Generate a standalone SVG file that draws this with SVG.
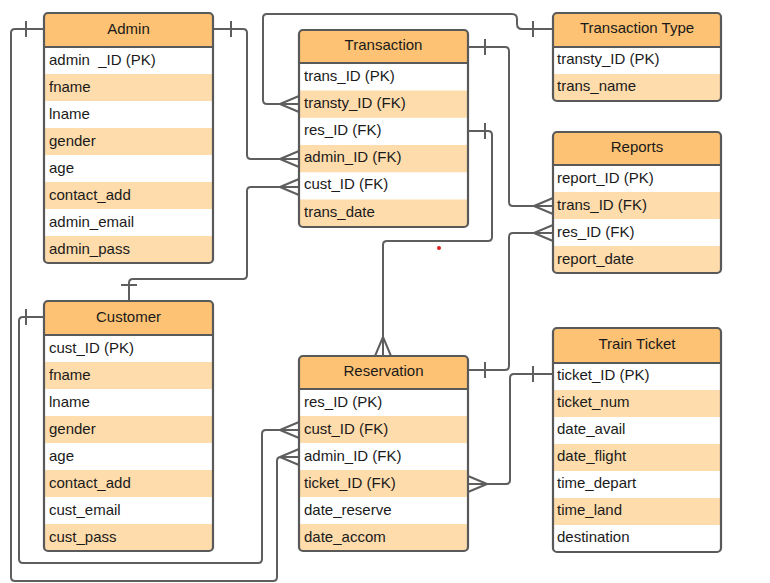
<svg xmlns="http://www.w3.org/2000/svg" width="770" height="583" viewBox="0 0 770 583">
<style>
.bg{fill:#ffffff}
.hd{fill:#fdc273}
.alt{fill:#fedcac}
.box{fill:none;stroke:#595959;stroke-width:2.2}
.sep{stroke:#595959;stroke-width:2}
.t{font-family:"Liberation Sans",Arial,sans-serif;font-size:15px;fill:#1a1a1a}
.h{font-family:"Liberation Sans",Arial,sans-serif;font-size:15px;fill:#1a1a1a;text-anchor:middle}
.c{fill:none;stroke:#5e5e5e;stroke-width:2;stroke-linejoin:round}
</style>
<defs>
<clipPath id="cpAdmin"><rect x="44" y="13" width="169" height="250" rx="4"/></clipPath>
<clipPath id="cpTrans"><rect x="299" y="30" width="169" height="197" rx="4"/></clipPath>
<clipPath id="cpType"><rect x="553" y="13" width="168" height="88" rx="4"/></clipPath>
<clipPath id="cpRep"><rect x="553" y="132" width="168" height="141" rx="4"/></clipPath>
<clipPath id="cpCust"><rect x="44" y="301" width="169" height="250" rx="4"/></clipPath>
<clipPath id="cpRes"><rect x="299" y="356" width="169" height="195" rx="4"/></clipPath>
<clipPath id="cpTick"><rect x="553" y="328" width="168" height="224" rx="4"/></clipPath>
</defs>

<g id="connectors">
  <!-- Admin -> Reservation.admin_ID -->
  <path class="c" d="M44 29 H15 Q11 29 11 33 V577 Q11 581 15 581 H273 Q277 581 277 577 V461 Q277 457 281 457 H299"/>
  <path class="c" d="M26 21 V37"/>
  <path class="c" d="M280 457 L299 449 M280 457 L299 465"/>
  <!-- Customer -> Reservation.cust_ID -->
  <path class="c" d="M44 317 H23 Q19 317 19 321 V559 Q19 563 23 563 H258 Q262 563 262 559 V434 Q262 430 266 430 H299"/>
  <path class="c" d="M26 309 V325"/>
  <path class="c" d="M280 430 L299 422 M280 430 L299 438"/>
  <!-- Customer -> Transaction.cust_ID -->
  <path class="c" d="M129 301 V283 Q129 279 133 279 H243 Q247 279 247 275 V191 Q247 187 251 187 H299"/>
  <path class="c" d="M121 285 H137"/>
  <path class="c" d="M280 187 L299 179 M280 187 L299 195"/>
  <!-- Admin -> Transaction.admin_ID -->
  <path class="c" d="M213 29 H243 Q247 29 247 33 V155 Q247 159 251 159 H299"/>
  <path class="c" d="M231 21 V37"/>
  <path class="c" d="M280 159 L299 151 M280 159 L299 167"/>
  <!-- Transaction.transty_ID -> Transaction Type -->
  <path class="c" d="M299 104 H267 Q263 104 263 100 V18 Q263 14 267 14 H512 Q517 14 517 19 V24 Q517 29 522 29 H553"/>
  <path class="c" d="M533 21 V37"/>
  <path class="c" d="M280 104 L299 96 M280 104 L299 112"/>
  <!-- Transaction -> Reports.trans_ID -->
  <path class="c" d="M468 47 H505 Q509 47 509 51 V202 Q509 206 513 206 H553"/>
  <path class="c" d="M485 39 V55"/>
  <path class="c" d="M534 206 L553 198 M534 206 L553 214"/>
  <!-- Transaction.res_ID -> Reservation -->
  <path class="c" d="M468 131 H488 Q492 131 492 135 V237 Q492 241 488 241 H387 Q383 241 383 245 V356"/>
  <path class="c" d="M485 123 V139"/>
  <path class="c" d="M383 337 L375 356 M383 337 L391 356"/>
  <!-- Reservation -> Reports.res_ID -->
  <path class="c" d="M468 370 H505 Q509 370 509 366 V237 Q509 233 513 233 H553"/>
  <path class="c" d="M485 362 V378"/>
  <path class="c" d="M534 233 L553 225 M534 233 L553 241"/>
  <!-- Train Ticket -> Reservation.ticket_ID -->
  <path class="c" d="M553 374 H514 Q510 374 510 378 V480 Q510 484 506 484 H468"/>
  <path class="c" d="M533 366 V382"/>
  <path class="c" d="M487 484 L468 476 M487 484 L468 492"/>
</g>

<g id="admin">
  <g clip-path="url(#cpAdmin)">
    <rect class="bg" x="44" y="13" width="169" height="250"/>
    <rect class="hd" x="44" y="13" width="169" height="34"/>
    <rect class="alt" x="44" y="74" width="169" height="27"/>
    <rect class="alt" x="44" y="128" width="169" height="27"/>
    <rect class="alt" x="44" y="182" width="169" height="27"/>
    <rect class="alt" x="44" y="236" width="169" height="27"/>
  </g>
  <line class="sep" x1="44" y1="47" x2="213" y2="47"/>
  <rect class="box" x="44" y="13" width="169" height="250" rx="4"/>
  <text class="h" x="128.5" y="33.5">Admin</text>
  <text class="t" x="49" y="64.5" xml:space="preserve">admin  _ID (PK)</text>
  <text class="t" x="49" y="91.5">fname</text>
  <text class="t" x="49" y="118.5">lname</text>
  <text class="t" x="49" y="145.5">gender</text>
  <text class="t" x="49" y="172.5">age</text>
  <text class="t" x="49" y="199.5">contact_add</text>
  <text class="t" x="49" y="226.5">admin_email</text>
  <text class="t" x="49" y="253.5">admin_pass</text>
</g>

<g id="transaction">
  <g clip-path="url(#cpTrans)">
    <rect class="bg" x="299" y="30" width="169" height="197"/>
    <rect class="hd" x="299" y="30" width="169" height="33"/>
    <rect class="alt" x="299" y="90.5" width="169" height="27.3"/>
    <rect class="alt" x="299" y="145" width="169" height="27.3"/>
    <rect class="alt" x="299" y="199.5" width="169" height="28"/>
  </g>
  <line class="sep" x1="299" y1="63" x2="468" y2="63"/>
  <rect class="box" x="299" y="30" width="169" height="197" rx="4"/>
  <text class="h" x="383.5" y="50">Transaction</text>
  <text class="t" x="304" y="80.5">trans_ID (PK)</text>
  <text class="t" x="304" y="107.5">transty_ID (FK)</text>
  <text class="t" x="304" y="135">res_ID (FK)</text>
  <text class="t" x="304" y="162">admin_ID (FK)</text>
  <text class="t" x="304" y="189">cust_ID (FK)</text>
  <text class="t" x="304" y="216.5">trans_date</text>
</g>

<g id="transaction-type">
  <g clip-path="url(#cpType)">
    <rect class="bg" x="553" y="13" width="168" height="88"/>
    <rect class="hd" x="553" y="13" width="168" height="34"/>
    <rect class="alt" x="553" y="74" width="168" height="27"/>
  </g>
  <line class="sep" x1="553" y1="47" x2="721" y2="47"/>
  <rect class="box" x="553" y="13" width="168" height="88" rx="4"/>
  <text class="h" x="637" y="33">Transaction Type</text>
  <text class="t" x="557" y="64">transty_ID (PK)</text>
  <text class="t" x="557" y="91">trans_name</text>
</g>

<g id="reports">
  <g clip-path="url(#cpRep)">
    <rect class="bg" x="553" y="132" width="168" height="141"/>
    <rect class="hd" x="553" y="132" width="168" height="33"/>
    <rect class="alt" x="553" y="192" width="168" height="27"/>
    <rect class="alt" x="553" y="246" width="168" height="27"/>
  </g>
  <line class="sep" x1="553" y1="165" x2="721" y2="165"/>
  <rect class="box" x="553" y="132" width="168" height="141" rx="4"/>
  <text class="h" x="637" y="152">Reports</text>
  <text class="t" x="557" y="183">report_ID (PK)</text>
  <text class="t" x="557" y="210">trans_ID (FK)</text>
  <text class="t" x="557" y="237">res_ID (FK)</text>
  <text class="t" x="557" y="264">report_date</text>
</g>

<g id="customer">
  <g clip-path="url(#cpCust)">
    <rect class="bg" x="44" y="301" width="169" height="250"/>
    <rect class="hd" x="44" y="301" width="169" height="34"/>
    <rect class="alt" x="44" y="362" width="169" height="27"/>
    <rect class="alt" x="44" y="416" width="169" height="27"/>
    <rect class="alt" x="44" y="470" width="169" height="27"/>
    <rect class="alt" x="44" y="524" width="169" height="27"/>
  </g>
  <line class="sep" x1="44" y1="335" x2="213" y2="335"/>
  <rect class="box" x="44" y="301" width="169" height="250" rx="4"/>
  <text class="h" x="128.5" y="321.5">Customer</text>
  <text class="t" x="49" y="352.5">cust_ID (PK)</text>
  <text class="t" x="49" y="379.5">fname</text>
  <text class="t" x="49" y="406.5">lname</text>
  <text class="t" x="49" y="433.5">gender</text>
  <text class="t" x="49" y="460.5">age</text>
  <text class="t" x="49" y="487.5">contact_add</text>
  <text class="t" x="49" y="514.5">cust_email</text>
  <text class="t" x="49" y="541.5">cust_pass</text>
</g>

<g id="reservation">
  <g clip-path="url(#cpRes)">
    <rect class="bg" x="299" y="356" width="169" height="195"/>
    <rect class="hd" x="299" y="356" width="169" height="33"/>
    <rect class="alt" x="299" y="416" width="169" height="27"/>
    <rect class="alt" x="299" y="470" width="169" height="27"/>
    <rect class="alt" x="299" y="524" width="169" height="27"/>
  </g>
  <line class="sep" x1="299" y1="389" x2="468" y2="389"/>
  <rect class="box" x="299" y="356" width="169" height="195" rx="4"/>
  <text class="h" x="383.5" y="376">Reservation</text>
  <text class="t" x="304" y="407">res_ID (PK)</text>
  <text class="t" x="304" y="434">cust_ID (FK)</text>
  <text class="t" x="304" y="461">admin_ID (FK)</text>
  <text class="t" x="304" y="488">ticket_ID (FK)</text>
  <text class="t" x="304" y="515">date_reserve</text>
  <text class="t" x="304" y="542">date_accom</text>
</g>

<g id="train-ticket">
  <g clip-path="url(#cpTick)">
    <rect class="bg" x="553" y="328" width="168" height="224"/>
    <rect class="hd" x="553" y="328" width="168" height="35"/>
    <rect class="alt" x="553" y="390" width="168" height="27"/>
    <rect class="alt" x="553" y="444" width="168" height="27"/>
    <rect class="alt" x="553" y="498" width="168" height="27"/>
  </g>
  <line class="sep" x1="553" y1="363" x2="721" y2="363"/>
  <rect class="box" x="553" y="328" width="168" height="224" rx="4"/>
  <text class="h" x="637" y="348.5">Train Ticket</text>
  <text class="t" x="557" y="379.5">ticket_ID (PK)</text>
  <text class="t" x="557" y="406.5">ticket_num</text>
  <text class="t" x="557" y="433.5">date_avail</text>
  <text class="t" x="557" y="460.5">date_flight</text>
  <text class="t" x="557" y="487.5">time_depart</text>
  <text class="t" x="557" y="514.5">time_land</text>
  <text class="t" x="557" y="541.5">destination</text>
</g>

<circle cx="439" cy="248" r="2" fill="#e02020"/>
</svg>
